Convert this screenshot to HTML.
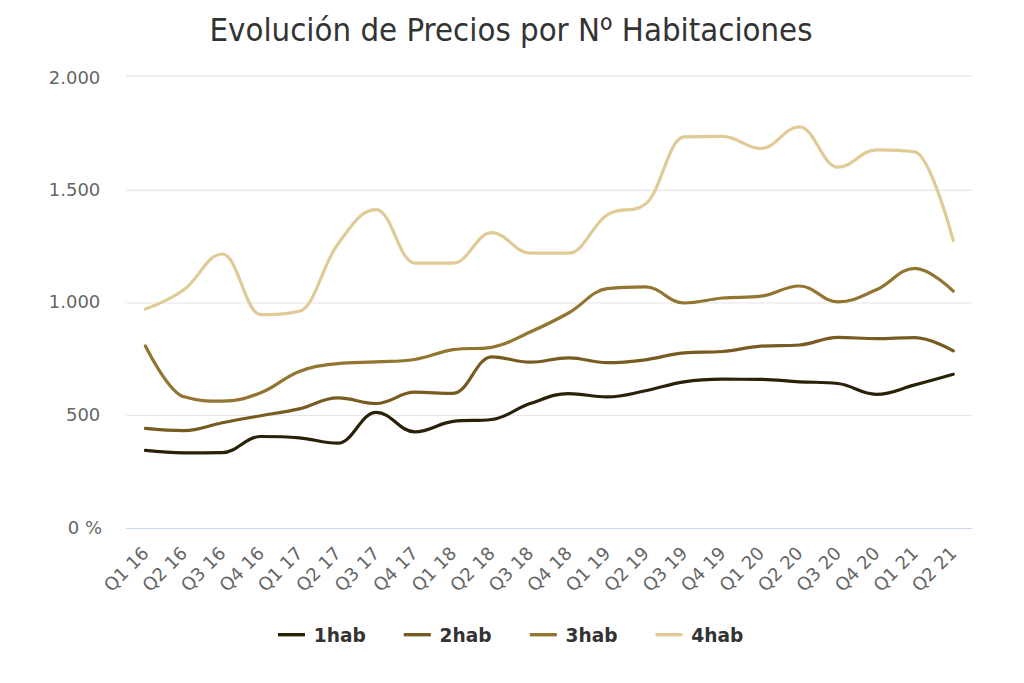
<!DOCTYPE html>
<html><head><meta charset="utf-8"><title>Evolución de Precios por Nº Habitaciones</title>
<style>
html,body{margin:0;padding:0;background:#fff;width:1024px;height:683px;overflow:hidden}
svg{display:block}
text{font-family:'DejaVu Sans', 'Liberation Sans', sans-serif}
</style></head><body>
<svg width="1024" height="683" viewBox="0 0 1024 683">
<rect x="0" y="0" width="1024" height="683" fill="#ffffff"/>

<path d="M 126.3 75.9 L 972.3 75.9" stroke="#e6e6e6" stroke-width="1.2" fill="none"/>
<path d="M 126.3 190.3 L 972.3 190.3" stroke="#e6e6e6" stroke-width="1.2" fill="none"/>
<path d="M 126.3 303.0 L 972.3 303.0" stroke="#e6e6e6" stroke-width="1.2" fill="none"/>
<path d="M 126.3 415.5 L 972.3 415.5" stroke="#e6e6e6" stroke-width="1.2" fill="none"/>
<path d="M 126.3 528.5 L 972.3 528.5" stroke="#ccd6eb" stroke-width="1.2" fill="none"/>
<text x="100.3" y="83.7" text-anchor="end" fill="#666666" font-size="18">2.000</text>
<text x="100.3" y="195.5" text-anchor="end" fill="#666666" font-size="18">1.500</text>
<text x="100.3" y="308.0" text-anchor="end" fill="#666666" font-size="18">1.000</text>
<text x="100.3" y="421.3" text-anchor="end" fill="#666666" font-size="18">500</text>
<text x="102.0" y="534.1" text-anchor="end" fill="#666666" font-size="18">0 %</text>
<text x="149.9" y="554.5" text-anchor="end" fill="#666666" font-size="18" transform="rotate(-45 149.9 554.5)">Q1 16</text>
<text x="188.4" y="554.5" text-anchor="end" fill="#666666" font-size="18" transform="rotate(-45 188.4 554.5)">Q2 16</text>
<text x="226.8" y="554.5" text-anchor="end" fill="#666666" font-size="18" transform="rotate(-45 226.8 554.5)">Q3 16</text>
<text x="265.3" y="554.5" text-anchor="end" fill="#666666" font-size="18" transform="rotate(-45 265.3 554.5)">Q4 16</text>
<text x="303.8" y="554.5" text-anchor="end" fill="#666666" font-size="18" transform="rotate(-45 303.8 554.5)">Q1 17</text>
<text x="342.2" y="554.5" text-anchor="end" fill="#666666" font-size="18" transform="rotate(-45 342.2 554.5)">Q2 17</text>
<text x="380.7" y="554.5" text-anchor="end" fill="#666666" font-size="18" transform="rotate(-45 380.7 554.5)">Q3 17</text>
<text x="419.2" y="554.5" text-anchor="end" fill="#666666" font-size="18" transform="rotate(-45 419.2 554.5)">Q4 17</text>
<text x="457.7" y="554.5" text-anchor="end" fill="#666666" font-size="18" transform="rotate(-45 457.7 554.5)">Q1 18</text>
<text x="496.1" y="554.5" text-anchor="end" fill="#666666" font-size="18" transform="rotate(-45 496.1 554.5)">Q2 18</text>
<text x="534.6" y="554.5" text-anchor="end" fill="#666666" font-size="18" transform="rotate(-45 534.6 554.5)">Q3 18</text>
<text x="573.1" y="554.5" text-anchor="end" fill="#666666" font-size="18" transform="rotate(-45 573.1 554.5)">Q4 18</text>
<text x="611.5" y="554.5" text-anchor="end" fill="#666666" font-size="18" transform="rotate(-45 611.5 554.5)">Q1 19</text>
<text x="650.0" y="554.5" text-anchor="end" fill="#666666" font-size="18" transform="rotate(-45 650.0 554.5)">Q2 19</text>
<text x="688.5" y="554.5" text-anchor="end" fill="#666666" font-size="18" transform="rotate(-45 688.5 554.5)">Q3 19</text>
<text x="726.9" y="554.5" text-anchor="end" fill="#666666" font-size="18" transform="rotate(-45 726.9 554.5)">Q4 19</text>
<text x="765.4" y="554.5" text-anchor="end" fill="#666666" font-size="18" transform="rotate(-45 765.4 554.5)">Q1 20</text>
<text x="803.9" y="554.5" text-anchor="end" fill="#666666" font-size="18" transform="rotate(-45 803.9 554.5)">Q2 20</text>
<text x="842.4" y="554.5" text-anchor="end" fill="#666666" font-size="18" transform="rotate(-45 842.4 554.5)">Q3 20</text>
<text x="880.8" y="554.5" text-anchor="end" fill="#666666" font-size="18" transform="rotate(-45 880.8 554.5)">Q4 20</text>
<text x="919.3" y="554.5" text-anchor="end" fill="#666666" font-size="18" transform="rotate(-45 919.3 554.5)">Q1 21</text>
<text x="957.8" y="554.5" text-anchor="end" fill="#666666" font-size="18" transform="rotate(-45 957.8 554.5)">Q2 21</text>
<path d="M 145.40 450.40 C 145.40 450.40 168.48 452.80 183.87 452.80 C 199.26 452.80 206.95 452.80 222.34 452.60 C 237.73 452.40 245.42 436.50 260.81 436.50 C 276.20 436.50 283.89 436.50 299.28 437.80 C 314.67 439.10 322.36 443.20 337.75 443.20 C 353.14 443.20 360.83 412.30 376.22 412.30 C 391.61 412.30 399.30 431.80 414.69 431.80 C 430.08 431.80 437.77 423.30 453.16 421.40 C 468.55 419.50 476.24 421.40 491.63 419.50 C 507.02 417.60 514.71 408.78 530.10 403.60 C 545.49 398.42 553.18 393.60 568.57 393.60 C 583.96 393.60 591.65 396.90 607.04 396.90 C 622.43 396.90 630.12 393.82 645.51 390.80 C 660.90 387.78 668.59 384.12 683.98 381.80 C 699.37 379.48 707.06 379.20 722.45 379.20 C 737.84 379.20 745.53 379.20 760.92 379.40 C 776.31 379.60 784.00 380.98 799.39 381.80 C 814.78 382.62 822.47 381.80 837.86 383.50 C 853.25 385.20 860.94 394.30 876.33 394.30 C 891.72 394.30 899.41 388.90 914.80 384.90 C 930.19 380.90 953.27 374.30 953.27 374.30" stroke="#2a2208" stroke-width="3.2" fill="none" stroke-linejoin="round" stroke-linecap="round"/>
<path d="M 145.40 428.40 C 145.40 428.40 168.48 430.60 183.87 430.60 C 199.26 430.60 206.95 425.78 222.34 422.80 C 237.73 419.82 245.42 418.48 260.81 415.70 C 276.20 412.92 283.89 412.46 299.28 408.90 C 314.67 405.34 322.36 397.90 337.75 397.90 C 353.14 397.90 360.83 403.50 376.22 403.50 C 391.61 403.50 399.30 392.20 414.69 392.20 C 430.08 392.20 437.77 393.40 453.16 393.40 C 468.55 393.40 476.24 356.80 491.63 356.80 C 507.02 356.80 514.71 362.20 530.10 362.20 C 545.49 362.20 553.18 357.80 568.57 357.80 C 583.96 357.80 591.65 362.70 607.04 362.70 C 622.43 362.70 630.12 361.78 645.51 359.80 C 660.90 357.82 668.59 354.10 683.98 352.80 C 699.37 351.50 707.06 352.80 722.45 351.50 C 737.84 350.20 745.53 347.20 760.92 346.10 C 776.31 345.00 784.00 346.10 799.39 345.00 C 814.78 343.90 822.47 337.40 837.86 337.40 C 853.25 337.40 860.94 338.60 876.33 338.60 C 891.72 338.60 899.41 337.60 914.80 337.60 C 930.19 337.60 953.27 350.80 953.27 350.80" stroke="#785b20" stroke-width="3.2" fill="none" stroke-linejoin="round" stroke-linecap="round"/>
<path d="M 145.40 346.00 C 145.40 346.00 168.48 392.50 183.87 396.80 C 199.26 401.10 206.95 401.10 222.34 401.10 C 237.73 401.10 245.42 398.64 260.81 392.70 C 276.20 386.76 283.89 377.22 299.28 371.40 C 314.67 365.58 322.36 365.30 337.75 363.60 C 353.14 361.90 360.83 362.72 376.22 361.90 C 391.61 361.08 399.30 361.90 414.69 359.50 C 430.08 357.10 437.77 352.10 453.16 349.70 C 468.55 347.30 476.24 349.70 491.63 347.30 C 507.02 344.90 514.71 338.86 530.10 332.00 C 545.49 325.14 553.18 321.66 568.57 313.00 C 583.96 304.34 591.65 290.50 607.04 288.70 C 622.43 286.90 630.12 286.90 645.51 286.90 C 660.90 286.90 668.59 303.00 683.98 303.00 C 699.37 303.00 707.06 299.36 722.45 298.00 C 737.84 296.64 745.53 298.00 760.92 296.20 C 776.31 294.40 784.00 286.00 799.39 286.00 C 814.78 286.00 822.47 301.80 837.86 301.80 C 853.25 301.80 860.94 296.50 876.33 289.80 C 891.72 283.10 899.41 268.30 914.80 268.30 C 930.19 268.30 953.27 291.10 953.27 291.10" stroke="#917530" stroke-width="3.2" fill="none" stroke-linejoin="round" stroke-linecap="round"/>
<path d="M 145.40 309.10 C 145.40 309.10 168.48 300.82 183.87 289.80 C 199.26 278.78 206.95 254.00 222.34 254.00 C 237.73 254.00 245.42 314.60 260.81 314.60 C 276.20 314.60 283.89 314.60 299.28 311.30 C 314.67 308.00 322.36 264.54 337.75 244.20 C 353.14 223.86 360.83 209.60 376.22 209.60 C 391.61 209.60 399.30 263.10 414.69 263.10 C 430.08 263.10 437.77 263.10 453.16 263.10 C 468.55 263.10 476.24 232.70 491.63 232.70 C 507.02 232.70 514.71 253.10 530.10 253.10 C 545.49 253.10 553.18 253.10 568.57 253.10 C 583.96 253.10 591.65 224.82 607.04 215.00 C 622.43 205.18 630.12 215.00 645.51 204.00 C 660.90 193.00 668.59 137.30 683.98 136.80 C 699.37 136.30 707.06 136.30 722.45 136.30 C 737.84 136.30 745.53 148.50 760.92 148.50 C 776.31 148.50 784.00 126.90 799.39 126.90 C 814.78 126.90 822.47 167.20 837.86 167.20 C 853.25 167.20 860.94 149.80 876.33 149.80 C 891.72 149.80 899.41 149.80 914.80 151.80 C 930.19 153.80 953.27 240.50 953.27 240.50" stroke="#e0ca96" stroke-width="3.2" fill="none" stroke-linejoin="round" stroke-linecap="round"/>
<text x="511" y="40.8" text-anchor="middle" fill="#333333" font-size="31.5" textLength="603" lengthAdjust="spacingAndGlyphs">Evolución de Precios por N<tspan dy="3.6" font-size="33" font-family="&quot;Noto Sans CJK JP&quot;, &quot;Liberation Sans&quot;, sans-serif">º</tspan><tspan dy="-3.6"> Habitaciones</tspan></text>
<path d="M 278 634.7 L 305 634.7" stroke="#2a2208" stroke-width="3.4" fill="none"/>
<text x="313.8" y="642.2" fill="#333333" font-size="18.6" font-weight="bold">1hab</text>
<path d="M 403.8 634.7 L 430.8 634.7" stroke="#785b20" stroke-width="3.4" fill="none"/>
<text x="439.6" y="642.2" fill="#333333" font-size="18.6" font-weight="bold">2hab</text>
<path d="M 529.8 634.7 L 556.8 634.7" stroke="#917530" stroke-width="3.4" fill="none"/>
<text x="565.6" y="642.2" fill="#333333" font-size="18.6" font-weight="bold">3hab</text>
<path d="M 655.5 634.7 L 682.5 634.7" stroke="#e0ca96" stroke-width="3.4" fill="none"/>
<text x="691.3" y="642.2" fill="#333333" font-size="18.6" font-weight="bold">4hab</text>
</svg>
</body></html>
